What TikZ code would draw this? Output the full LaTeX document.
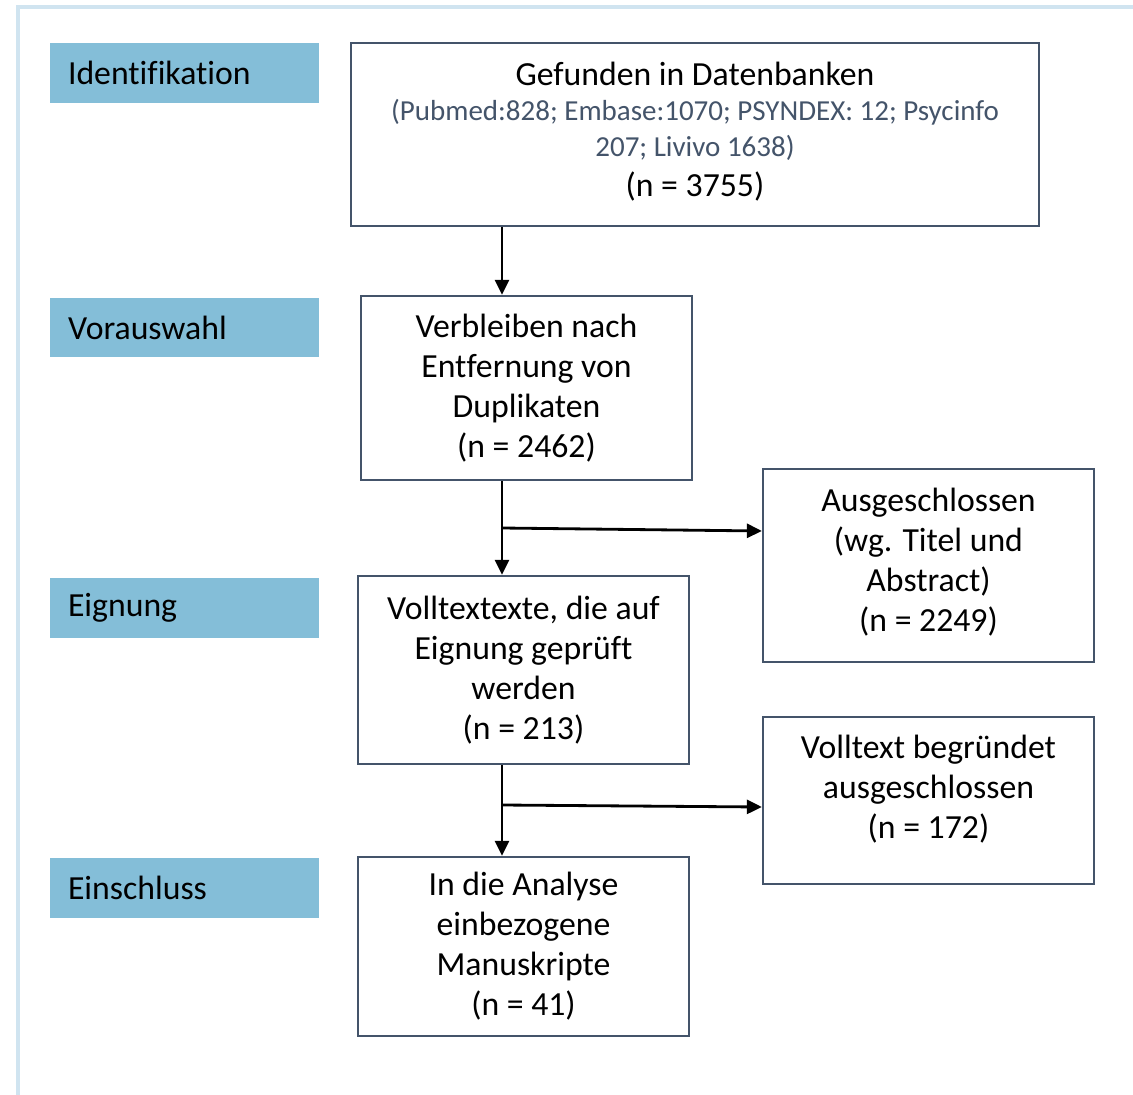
\documentclass[tikz,border=0pt]{standalone}
\usepackage{fontspec}
\setmainfont{Carlito}[Ligatures=NoCommon]
\usetikzlibrary{calc}
\usetikzlibrary{positioning, shapes, arrows.meta}

\definecolor{phasefill}{RGB}{132,190,216}
\definecolor{boxline}{RGB}{68,84,106}
\definecolor{framecol}{RGB}{208,228,240}

\newcommand{\quelle}[1]{{\fontsize{16.5}{19.9}\selectfont\color{boxline}#1}}

\tikzset{
    phase/.style={fill=phasefill, minimum width=5.38cm, minimum height=1.2cm,
        text width=4.66cm, inner xsep=0.36cm, align=left,
        font=\fontsize{19.2}{22.8}\selectfont},
    box/.style={draw=boxline, line width=1.3pt, fill=white, align=center,
        minimum width=6.62cm, font=\fontsize{19.2}{22.8}\selectfont},
    pfeil/.style={line width=1.6pt, -{Triangle[length=0.3cm,width=0.28cm]}}
}

\begin{document}
\begin{tikzpicture}[x=0.02cm, y=-0.02cm]
\useasboundingbox (0,0) rectangle (1133,1095);
\draw[framecol, line width=2pt] (18,1095) -- (18,7) -- (1133,7);

\node [phase] (ident) at (184.5,73) {Identifikation};
\node [phase] (vorausw) at (184.5,327.5) {Vorauswahl};
\node [phase] (eign) at (184.5,608) {Eignung};
\node [phase] (einschl) at (184.5,888) {Einschluss};

\node [box, minimum width=13.76cm, minimum height=3.66cm, text depth=0.21cm] (gefunden) at (695,134.5)
        {Gefunden in Datenbanken\\[-2.9pt]
         \quelle{(Pubmed:828; Embase:1070; PSYNDEX: 12; Psycinfo}\\[-2.3pt]
         \quelle{207; Livivo 1638)}\\[-0.1pt]
         (n = 3755)};
\node [box, minimum height=3.68cm] (verbleib) at (526.5,388)
        {Verbleiben nach\\Entfernung von\\Duplikaten\\(n = 2462)};
\node [box, minimum height=3.86cm, text depth=0.23cm] (ausgeschl) at (928.5,565.5)
        {Ausgeschlossen\\(wg. Titel und\\Abstract)\\(n = 2249)};
\node [box, minimum height=3.76cm] (volltexte) at (523.5,670)
        {Volltextexte, die auf\\Eignung geprüft\\werden\\(n = 213)};
\node [box, minimum height=3.34cm, text depth=0.55cm] (begruendet) at (928.5,800.5)
        {Volltext begründet\\ausgeschlossen\\(n = 172)};
\node [box, minimum height=3.58cm] (analyse) at (523.5,946.5)
        {In die Analyse\\einbezogene\\Manuskripte\\(n = 41)};

\coordinate (abzw1) at (502,528);
\coordinate (abzw2) at (502,805);

\draw [pfeil] (gefunden.south -| abzw1) -- (verbleib.north -| abzw1);
\draw [pfeil] (verbleib.south -| abzw1) -- (volltexte.north -| abzw1);
\draw [pfeil] (abzw1) -- ($(ausgeschl.west)+(0,-34.5)$);
\draw [pfeil] (volltexte.south -| abzw2) -- (analyse.north -| abzw2);
\draw [pfeil] (abzw2) -- ($(begruendet.west)+(0,6.5)$);
\end{tikzpicture}
\end{document}
